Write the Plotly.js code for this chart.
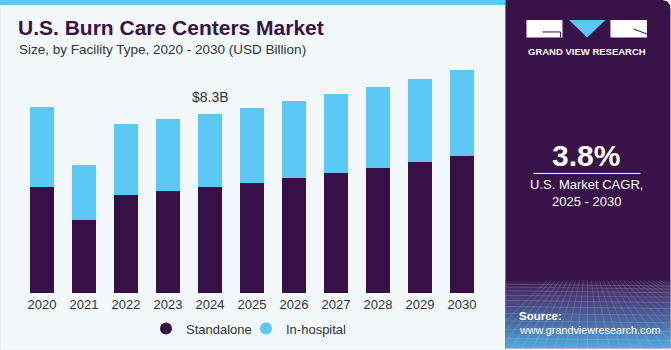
<!DOCTYPE html>
<html>
<head>
<meta charset="utf-8">
<script src="https://cdn.plot.ly/plotly-3.0.1.min.js"></script>
<style>html,body{margin:0;padding:0;background:#f3f8fb;}#chart{width:671px;height:350px;}</style>
</head>
<body>
<div id="chart"></div>
<script>
// ---- data ----
const years = ['2020','2021','2022','2023','2024','2025','2026','2027','2028','2029','2030'];
const standalone = [4.92, 3.39, 4.54, 4.72, 4.90, 5.10, 5.33, 5.55, 5.81, 6.08, 6.36];
const inHospital = [3.72, 2.53, 3.30, 3.35, 3.40, 3.48, 3.56, 3.66, 3.76, 3.86, 4.00];
const seriesNames = ['Standalone', 'In-hospital'];
const calloutYear = '2024';
const calloutValue = 8.3;
const calloutText = '$8.3B';
const titleText = 'U.S. Burn Care Centers Market';
const subtitleText = 'Size, by Facility Type, 2020 - 2030 (USD Billion)';
const cagrText = '3.8%';
const cagrLabel = 'U.S. Market CAGR,<br>2025 - 2030';

// ---- layout geometry (pixels) ----
const W = 671, H = 350;
const L = 21.3, R = 483.5, T = 60, B = 292.7;
const px = x => (x - L) / (R - L);
const py = y => (B - y) / (B - T);
const purple = '#381048', blue = '#5bc8f5', ink = '#333333';
const font = '"Liberation Sans", Arial, sans-serif';

// decorative grid image for the bottom of the side panel
let svg = "<svg xmlns='http://www.w3.org/2000/svg' width='165' height='70' viewBox='0 0 165 70'>" +
  "<defs><linearGradient id='g' x1='0' y1='0' x2='0' y2='1'>" +
  "<stop offset='0' stop-color='#3b1a52'/><stop offset='0.2' stop-color='#4a3670'/>" +
  "<stop offset='0.65' stop-color='#4b6fa8'/><stop offset='1' stop-color='#4faee2'/></linearGradient></defs>" +
  "<rect width='165' height='70' fill='url(#g)'/>";
let gy = 4, step = 3;
while (gy < 70) { svg += "<line x1='0' y1='" + gy + "' x2='165' y2='" + (gy + 2) + "' stroke='#b9d6f2' stroke-opacity='0.35' stroke-width='0.6'/>"; gy += step; step += 0.8; }
for (let i = -10; i <= 30; i++) { const xt = 82 + i * 4, xb = 82 + i * 11; svg += "<line x1='" + xt + "' y1='0' x2='" + xb + "' y2='70' stroke='#b9d6f2' stroke-opacity='0.3' stroke-width='0.6'/>"; }
svg += "</svg>";
const gridImg = 'data:image/svg+xml;charset=utf-8,' + encodeURIComponent(svg);

function rectShape(x0, y0, x1, y1, fill, extra) {
  return Object.assign({type: 'rect', xref: 'paper', yref: 'paper', x0: px(x0), x1: px(x1), y0: py(y1), y1: py(y0),
    fillcolor: fill, line: {width: 0}, layer: 'below'}, extra || {});
}
function pathShape(pts, fill) {
  const d = 'M' + pts.map(p => px(p[0]) + ',' + py(p[1])).join(' L') + ' Z';
  return {type: 'path', xref: 'paper', yref: 'paper', path: d, fillcolor: fill, line: {width: 0}, layer: 'below'};
}
function lineShape(x0, y0, x1, y1, color, w) {
  return {type: 'line', xref: 'paper', yref: 'paper', x0: px(x0), x1: px(x1), y0: py(y0), y1: py(y1), line: {color: color, width: w}, layer: 'above'};
}
function txt(x, y, text, size, color, opts) {
  return Object.assign({xref: 'paper', yref: 'paper', x: px(x), y: py(y), text: text, showarrow: false,
    font: {family: font, size: size, color: color}, xanchor: 'center', yanchor: 'middle'}, opts || {});
}

const traces = [
  {type: 'bar', x: years, y: standalone, name: seriesNames[0], marker: {color: purple, line: {width: 0}}, showlegend: false, hoverinfo: 'x+y'},
  {type: 'bar', x: years, y: inHospital, name: seriesNames[1], marker: {color: blue, line: {width: 0}}, showlegend: false, hoverinfo: 'x+y'},
  {type: 'scatter', mode: 'markers', x: [years[0]], y: [null], name: seriesNames[0], legend: 'legend', marker: {color: purple, size: 12, symbol: 'circle'}},
  {type: 'scatter', mode: 'markers', x: [years[0]], y: [null], name: seriesNames[1], legend: 'legend2', marker: {color: blue, size: 12, symbol: 'circle'}}
];

const legendBase = {orientation: 'h', xref: 'container', yref: 'container', xanchor: 'left',
  y: (H - 328.5) / H, yanchor: 'middle',
  font: {family: font, size: 13, color: ink}, bgcolor: 'rgba(0,0,0,0)'};

const layout = {
  width: W, height: H,
  margin: {l: L, r: W - R, t: T, b: H - B, pad: 0, autoexpand: false},
  paper_bgcolor: '#f3f8fb', plot_bgcolor: 'rgba(0,0,0,0)',
  barmode: 'stack', bargap: 0.445,
  font: {family: font, color: ink},
  xaxis: {type: 'category', categoryorder: 'array', categoryarray: years, range: [-0.5, years.length - 0.5],
    showgrid: false, zeroline: false, showline: false, ticks: '', ticklen: 0, ticklabelstandoff: 2,
    tickfont: {family: font, size: 13, color: ink}, fixedrange: true},
  yaxis: {range: [0, 10.81], visible: false, showgrid: false, zeroline: false, fixedrange: true},
  showlegend: true,
  legend: Object.assign({}, legendBase, {x: 146 / W}),
  legend2: Object.assign({}, legendBase, {x: 246 / W}),
  shapes: [
    rectShape(0, 0, 506, 350, '#f3f8fb', {line: {color: '#cfd3d6', width: 1}}),
    rectShape(0, 0, 506, 5, blue),
    pathShape([[506, 0], [663, 0], [668, 1.5], [670.5, 5], [671, 9], [671, 348], [506, 348]], '#391249'),
    // logo
    Object.assign(rectShape(527, 20, 563, 37.5, '#ffffff'), {layer: 'above'}),
    lineShape(543, 32, 561, 32, '#391249', 1),
    lineShape(561, 32, 561, 37.5, '#391249', 1),
    Object.assign(pathShape([[569.5, 20], [606, 20], [587.7, 37.5]], blue), {layer: 'above'}),
    Object.assign(rectShape(611, 20, 647.5, 37.5, '#ffffff'), {layer: 'above'}),
    lineShape(634, 29, 647.5, 34, '#391249', 1),
    // CAGR divider
    lineShape(534, 173.3, 641, 173.3, '#ffffff', 1)
  ],
  images: [{source: gridImg, xref: 'paper', yref: 'paper', x: px(506), y: py(280), sizex: 165 / (R - L), sizey: 68 / (B - T),
    xanchor: 'left', yanchor: 'top', sizing: 'stretch', layer: 'above'}],
  annotations: [
    txt(16, 28, '<b>' + titleText + '</b>', 21, '#3a1048', {xanchor: 'left'}),
    txt(17, 50, subtitleText, 13.5, ink, {xanchor: 'left'}),
    {x: years.indexOf(calloutYear), y: calloutValue, xref: 'x', yref: 'y', text: calloutText, showarrow: false, yanchor: 'bottom', yshift: 7,
      font: {family: font, size: 14, color: ink}},
    txt(587.5, 51.5, '<b>GRAND VIEW RESEARCH</b>', 9.5, '#ffffff'),
    txt(587, 155, '<b>' + cagrText + '</b>', 30, '#ffffff'),
    txt(587, 193, cagrLabel, 13, '#ffffff'),
    txt(518, 316, '<b>Source:</b>', 11.5, '#ffffff', {xanchor: 'left'}),
    txt(518, 330, 'www.grandviewresearch.com', 10.8, '#ffffff', {xanchor: 'left'})
  ]
};

Plotly.newPlot('chart', traces, layout, {displayModeBar: false, staticPlot: true});
</script>
</body>
</html>
